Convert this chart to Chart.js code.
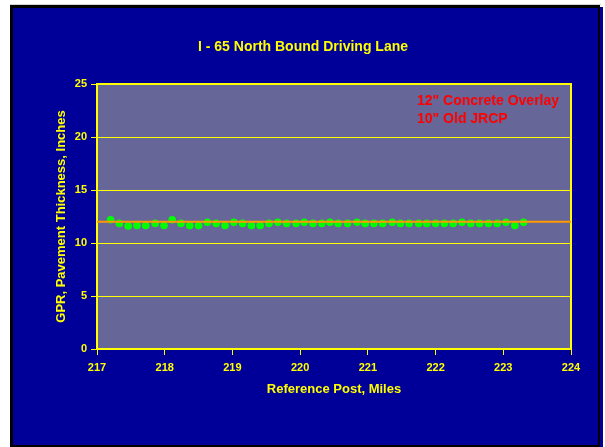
<!DOCTYPE html>
<html>
<head>
<meta charset="utf-8">
<script src="https://cdn.jsdelivr.net/npm/chart.js@4/dist/chart.umd.min.js"></script>
<style>
  html, body { margin: 0; padding: 0; background: #fff; overflow: hidden; }
  #c { display: block; }
</style>
</head>
<body>
<canvas id="c" width="605" height="447"></canvas>
<script>
// GPR survey, I-65 northbound driving lane
const referencePost = [
  217.20, 217.33, 217.46, 217.59, 217.72, 217.86, 217.99, 218.11, 218.24, 218.37,
  218.50, 218.63, 218.76, 218.89, 219.02, 219.15, 219.28, 219.41, 219.54, 219.67,
  219.80, 219.94, 220.06, 220.19, 220.32, 220.44, 220.56, 220.70, 220.84, 220.96,
  221.09, 221.22, 221.36, 221.48, 221.61, 221.75, 221.87, 222.00, 222.13, 222.26,
  222.39, 222.52, 222.65, 222.78, 222.91, 223.04, 223.17, 223.30
];
const gprThickness = [
  12.2, 11.85, 11.6, 11.65, 11.65, 11.85, 11.65, 12.2, 11.85, 11.65,
  11.65, 11.95, 11.85, 11.65, 11.95, 11.85, 11.65, 11.65, 11.85, 11.95,
  11.85, 11.85, 11.95, 11.85, 11.85, 11.95, 11.85, 11.85, 11.95, 11.85,
  11.85, 11.85, 11.95, 11.85, 11.85, 11.85, 11.85, 11.85, 11.85, 11.85,
  11.95, 11.85, 11.85, 11.85, 11.85, 11.95, 11.65, 11.95
];
const designThickness = 12;
const xRange = [217, 224];
const yRange = [0, 25];
const chartTitle = 'I - 65 North Bound Driving Lane';
const layerNotes = ['12" Concrete Overlay', '10" Old JRCP'];
const xAxisTitle = 'Reference Post, Miles';
const yAxisTitle = 'GPR, Pavement Thickness, Inches';

const FONT = "'Liberation Sans', Arial, sans-serif";
const YELLOW = '#FFFF00';

const slideFrame = {
  id: 'slideFrame',
  beforeDraw(chart) {
    const ctx = chart.ctx;
    const a = chart.chartArea;
    ctx.save();
    ctx.fillStyle = '#ffffff';
    ctx.fillRect(0, 0, chart.width, chart.height);
    ctx.fillStyle = '#d4d4d4';
    ctx.fillRect(10, 4, 591, 1);
    ctx.fillStyle = '#000000';
    ctx.fillRect(10, 5, 590, 442);
    ctx.fillStyle = '#000099';
    ctx.fillRect(13, 8, 585, 437);
    ctx.fillRect(600, 7, 3, 440);
    // plot area
    ctx.fillStyle = '#666699';
    ctx.fillRect(a.left, a.top, a.right - a.left, a.bottom - a.top);
    ctx.restore();
  },
  beforeDatasetsDraw(chart) {
    const ctx = chart.ctx;
    const a = chart.chartArea;
    ctx.save();
    ctx.strokeStyle = YELLOW;
    ctx.lineWidth = 2;
    ctx.strokeRect(a.left, a.top, a.right - a.left, a.bottom - a.top);
    ctx.restore();
  },
  afterDraw(chart) {
    const ctx = chart.ctx;
    ctx.save();
    ctx.textBaseline = 'middle';
    ctx.fillStyle = YELLOW;
    ctx.font = 'bold 14px ' + FONT;
    ctx.textAlign = 'center';
    ctx.fillText(chartTitle, 303, 47);
    ctx.fillStyle = '#FF0000';
    ctx.textAlign = 'left';
    ctx.fillText(layerNotes[0], 417, 101);
    ctx.fillText(layerNotes[1], 417, 119);
    ctx.restore();
  }
};

new Chart(document.getElementById('c'), {
  type: 'scatter',
  data: {
    datasets: [
      {
        type: 'line',
        label: 'Design thickness',
        data: [{ x: xRange[0], y: designThickness }, { x: xRange[1], y: designThickness }],
        borderColor: '#FF9900',
        borderWidth: 2,
        pointRadius: 0,
        order: 1
      },
      {
        label: 'GPR',
        data: referencePost.map((x, i) => ({ x, y: gprThickness[i] })),
        backgroundColor: '#00FF00',
        borderWidth: 0,
        pointRadius: 3.8,
        order: 2
      }
    ]
  },
  options: {
    responsive: false,
    animation: false,
    layout: { padding: { top: 84, right: 34, bottom: 0, left: 0 } },
    plugins: {
      legend: { display: false },
      tooltip: { enabled: false }
    },
    scales: {
      x: {
        type: 'linear',
        min: xRange[0],
        max: xRange[1],
        afterFit(s) { s.height = 98; },
        border: { display: false },
        grid: { drawOnChartArea: false, drawTicks: true, tickLength: 6, color: YELLOW, lineWidth: 1 },
        ticks: { stepSize: 1, color: YELLOW, padding: 6, font: { family: FONT, size: 11, weight: 'bold' } },
        title: {
          display: true, text: xAxisTitle, color: YELLOW,
          font: { family: FONT, size: 13, weight: 'bold' },
          padding: { top: 0, bottom: 50 }
        }
      },
      y: {
        min: yRange[0],
        max: yRange[1],
        afterFit(s) { s.width = 97; },
        border: { display: false },
        grid: { drawTicks: true, tickLength: 6, color: YELLOW, lineWidth: 1 },
        ticks: { stepSize: 5, color: YELLOW, padding: 4, font: { family: FONT, size: 11, weight: 'bold' } },
        title: {
          display: true, text: yAxisTitle, color: YELLOW,
          font: { family: FONT, size: 13, weight: 'bold' },
          padding: { top: 54, bottom: 0 }
        }
      }
    }
  },
  plugins: [slideFrame]
});
</script>
</body>
</html>
